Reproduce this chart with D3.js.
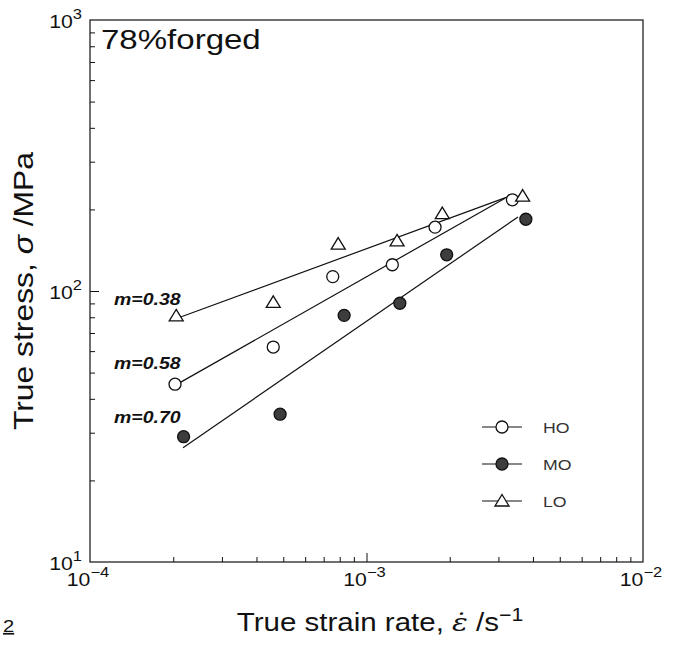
<!DOCTYPE html>
<html>
<head>
<meta charset="utf-8">
<script src="https://cdn.jsdelivr.net/npm/d3@7"></script>
<style>
  body { margin: 0; background: #fff; }
  text { font-family: "Liberation Sans", Arial, sans-serif; fill: #111; }
</style>
</head>
<body>
<div id="chart-container"></div>
<script>
// Axis ticks
const xMajor = [1e-4, 1e-3, 1e-2];
const xMajorExp = ["\u22124", "\u22123", "\u22122"];
const yMajor = [10, 100, 1000];
const yMajorExp = ["1", "2", "3"];

// Measured points (strain rate /s, true stress MPa)
const rateHO = [2.03e-4, 4.6e-4, 7.55e-4, 1.24e-3, 1.77e-3, 3.37e-3];
const stressHO = [45.3, 62.1, 113, 125, 172, 217];
const rateMO = [2.18e-4, 4.87e-4, 8.3e-4, 1.32e-3, 1.95e-3, 3.77e-3];
const stressMO = [29.0, 35.1, 81.3, 90.1, 136, 184];
const rateLO = [2.05e-4, 4.6e-4, 7.9e-4, 1.29e-3, 1.88e-3, 3.67e-3];
const stressLO = [80.9, 90.8, 149, 153, 193, 224];

// Fitted lines, end points
const fitRateHO = [2.13e-4, 3.17e-3];
const fitStressHO = [46.1, 220];
const fitRateMO = [2.17e-4, 3.53e-3];
const fitStressMO = [26.4, 187.6];
const fitRateLO = [2.08e-4, 3.22e-3];
const fitStressLO = [79.5, 222];

const slopeLabels = ["m=0.38", "m=0.58", "m=0.70"];
const legendNames = ["HO", "MO", "LO"];

const W = 674, H = 648;
const margin = { top: 20, right: 31, bottom: 86, left: 90 };
const stretch = 1.18; // the scanned typeface is wider than Arial

const x = d3.scaleLog().domain([1e-4, 1e-2]).range([margin.left, W - margin.right]);
const y = d3.scaleLog().domain([10, 1000]).range([H - margin.bottom, margin.top]);

const svg = d3.select("#chart-container")
  .append("svg")
  .attr("width", W)
  .attr("height", H);

// helper: place a text with horizontal stretch
function label(g, px, py, rot, size, anchor) {
  return g.append("g")
    .attr("transform", `translate(${px},${py}) rotate(${rot}) scale(${stretch},1)`)
    .append("text")
    .attr("text-anchor", anchor)
    .style("font-size", size + "px");
}

// Frame
svg.append("rect")
  .attr("x", x.range()[0])
  .attr("y", y.range()[1])
  .attr("width", x.range()[1] - x.range()[0])
  .attr("height", y.range()[0] - y.range()[1])
  .attr("fill", "none")
  .attr("stroke", "#111")
  .attr("stroke-width", 1.2);

// Bottom axis, ticks pointing inwards
const xMinor = [];
[1e-4, 1e-3].forEach(d => { for (let k = 2; k <= 9; k++) xMinor.push(d * k); });
svg.append("g")
  .attr("transform", `translate(0,${y.range()[0]})`)
  .call(d3.axisBottom(x).tickValues(xMinor).tickSize(-5).tickFormat(""))
  .call(g => g.select(".domain").remove())
  .selectAll(".tick line").attr("stroke", "#111");
svg.append("g")
  .attr("transform", `translate(0,${y.range()[0]})`)
  .call(d3.axisBottom(x).tickValues(xMajor.slice(1, 2)).tickSize(-9).tickFormat(""))
  .call(g => g.select(".domain").remove())
  .selectAll(".tick line").attr("stroke", "#111");

// Left axis
const yMinor = [];
[10, 100].forEach(d => { for (let k = 2; k <= 9; k++) yMinor.push(d * k); });
svg.append("g")
  .attr("transform", `translate(${x.range()[0]},0)`)
  .call(d3.axisLeft(y).tickValues(yMinor).tickSize(-5).tickFormat(""))
  .call(g => g.select(".domain").remove())
  .selectAll(".tick line").attr("stroke", "#111");
svg.append("g")
  .attr("transform", `translate(${x.range()[0]},0)`)
  .call(d3.axisLeft(y).tickValues(yMajor.slice(1, 2)).tickSize(-9).tickFormat(""))
  .call(g => g.select(".domain").remove())
  .selectAll(".tick line").attr("stroke", "#111");

// Tick labels as 10^n
xMajor.forEach((d, i) => {
  const t = label(svg, x(d) - 2, y.range()[0] + 24, 0, 18, "middle");
  t.append("tspan").text("10");
  t.append("tspan").attr("dy", -9).style("font-size", "14px").text(xMajorExp[i]);
});
yMajor.forEach((d, i) => {
  const t = label(svg, x.range()[0] - 8, y(d) + 8, 0, 18, "end");
  t.append("tspan").text("10");
  t.append("tspan").attr("dy", -9).style("font-size", "14px").text(yMajorExp[i]);
});

// Axis titles
const xt = label(svg, 380, 631, 0, 25, "middle");
xt.append("tspan").text("True strain rate,  ");
xt.append("tspan").style("font-style", "italic").style("font-family", "'DejaVu Serif', serif").text("\u03B5\u0307");
xt.append("tspan").text(" /s");
xt.append("tspan").attr("dy", -10).style("font-size", "18px").text("\u22121");

const yt = label(svg, 33, 291, -90, 27, "middle");
yt.append("tspan").text("True stress,  ");
yt.append("tspan").style("font-style", "italic").text("\u03C3");
yt.append("tspan").text(" /MPa");

// Panel title
label(svg, 101, 49, 0, 28, "start").text("78%forged");

// stray figure number at bottom-left
label(svg, 3, 632, 0, 17, "start").text("2")
  .style("text-decoration", "underline");

// Fitted lines
const line = d3.line().x(d => x(d[0])).y(d => y(d[1]));
[[fitRateLO, fitStressLO], [fitRateHO, fitStressHO], [fitRateMO, fitStressMO]].forEach(([r, s]) => {
  svg.append("path")
    .datum(r.map((v, i) => [v, s[i]]))
    .attr("fill", "none")
    .attr("stroke", "#111")
    .attr("stroke-width", 1.2)
    .attr("d", line);
});

// Slope annotations
const fitStarts = [[fitRateLO[0], fitStressLO[0]], [fitRateHO[0], fitStressHO[0]], [fitRateMO[0], fitStressMO[0]]];
const slopeDy = [-13, -13, -25];
slopeLabels.forEach((s, i) => {
  label(svg, x.range()[0] + 24, y(fitStarts[i][1]) + slopeDy[i], 0, 16.5, "start")
    .style("font-weight", "bold")
    .style("font-style", "italic")
    .text(s);
});

// Markers
const triPath = "M0,-6.5L7,5L-7,5Z";
function drawMarker(g, kind, px, py) {
  if (kind === "LO") {
    g.append("path").attr("d", triPath)
      .attr("transform", `translate(${px},${py})`)
      .attr("fill", "#fff").attr("stroke", "#111").attr("stroke-width", 1.3);
  } else {
    g.append("circle").attr("cx", px).attr("cy", py).attr("r", 6)
      .attr("fill", kind === "MO" ? "#3d3d3d" : "#fff")
      .attr("stroke", "#111").attr("stroke-width", 1.3);
  }
}
const series = [
  ["HO", rateHO, stressHO],
  ["MO", rateMO, stressMO],
  ["LO", rateLO, stressLO]
];
const pts = svg.append("g");
series.forEach(([name, r, s]) => {
  r.forEach((v, i) => drawMarker(pts, name, x(v), y(s[i])));
});

// Legend
const legend = svg.append("g");
legendNames.forEach((n, i) => {
  const ly = 427 + i * 37;
  legend.append("line")
    .attr("x1", 482).attr("x2", 522)
    .attr("y1", ly).attr("y2", ly)
    .attr("stroke", "#111").attr("stroke-width", 1.1);
  drawMarker(legend, n, 502, ly);
  label(legend, 543, ly + 6, 0, 15, "start").style("fill", "#333").text(n);
});
</script>
</body>
</html>
